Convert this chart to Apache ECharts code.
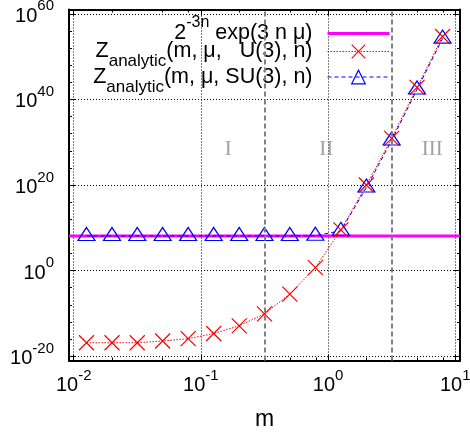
<!DOCTYPE html>
<html><head><meta charset="utf-8">
<script src="https://cdn.jsdelivr.net/npm/echarts@6/dist/echarts.min.js"></script>
<style>html,body{margin:0;padding:0;background:#fff}#c{width:470px;height:434px}</style>
</head><body><div id="c"></div>
<script>
// ---- data ----
const mValues   = [0.0126, 0.02, 0.0316, 0.05, 0.0794, 0.126, 0.2, 0.316, 0.5, 0.794, 1.26, 2.0, 3.16, 5.0, 7.94];
const log10Z_U3  = [-16.85, -16.85, -16.85, -16.45, -15.9, -14.7, -12.9, -10.1, -5.5, 0.7, 9.5, 20.0, 30.9, 42.8, 54.7];
const log10Z_SU3 = [8.1, 8.1, 8.1, 8.1, 8.1, 8.1, 8.1, 8.1, 8.1, 8.15, 9.3, 19.4, 30.4, 42.3, 54.2];
const log10Z_exp = 8.08;                       // 2^{-3n} exp(3 n mu), flat
const regionNames = ['I', 'II', 'III'];
const regionM     = [0.164, 0.965, 6.6];
const regionLog10Z = [28.3, 28.3, 28.3];
const regionBounds = [0.316, 3.16];             // dashed separators
const xMajorExp = [-2, -1, 0, 1];               // tick labels 10^k
const xMinorMult = [2, 5, 8];
const yMajorExp = [-20, 0, 20, 40, 60];
const yMinorStep = 4;
const xLogMin = -2.037, xLogMax = 1.037;
const yLogMin = -21, yLogMax = 61;

const L = Math.log10;
const FONT = 'Liberation Sans';
const xMinor = [];
[-3, -2, -1, 0, 1].forEach(e => xMinorMult.forEach(k => { const v = e + L(k); if (v > xLogMin && v < xLogMax) xMinor.push(+v.toFixed(5)); }));
const yMinor = [];
for (let v = -20; v <= 60; v += yMinorStep) if (yMajorExp.indexOf(v) < 0) yMinor.push(v);

const tickStyle = {color: '#000', width: 1};
const frameLine = {show: true, onZero: false, lineStyle: {color: '#000', width: 2}};
const noLine = {show: false, onZero: false};
function ax(base, opts) { return Object.assign({
  type: 'value', axisLine: noLine, axisLabel: {show: false},
  axisTick: {show: false}, splitLine: {show: false}, silent: true
}, base, opts); }
const xb = {min: xLogMin, max: xLogMax};
const yb = {min: yLogMin, max: yLogMax};
const majT = v => ({show: true, inside: true, length: 6, lineStyle: tickStyle, customValues: v});
const minT = v => ({show: true, inside: true, length: 3, lineStyle: tickStyle, customValues: v});
const gridLine = {show: true, lineStyle: {color: '#000', width: 1, type: [1, 2]}};

const xLabRich = {
  b: {fontSize: 20, fontFamily: FONT, color: '#000', lineHeight: 22},
  s: {fontSize: 15, fontFamily: FONT, color: '#000', lineHeight: 1, height: 2, verticalAlign: 'top'}
};
const yLabRich = {
  b: {fontSize: 20, fontFamily: FONT, color: '#000', lineHeight: 25, height: 20, verticalAlign: 'bottom'},
  s: {fontSize: 15, fontFamily: FONT, color: '#000', lineHeight: 1, height: 10, verticalAlign: 'top'}
};
const legRich = {
  b: {fontSize: 21.5, fontFamily: FONT, color: '#000', lineHeight: 24},
  sup: {fontSize: 16, fontFamily: FONT, color: '#000', lineHeight: 1, height: 2, verticalAlign: 'top'},
  sub: {fontSize: 17, fontFamily: FONT, color: '#000', lineHeight: 1, height: 4, verticalAlign: 'bottom'},
  g: {fontSize: 10, lineHeight: 1, width: 10}
};
const legendText = {
  exp: '{b|2}{sup|-3n}{b| exp(3 n μ)}{g| }',
  U3: '{b|Z}{sub|analytic}{b|(m, μ,   U(3), n)}{g| }',
  SU3: '{b|Z}{sub|analytic}{b|(m, μ, SU(3), n)}{g| }'
};

const option = {
  animation: false,
  backgroundColor: '#fff',
  grid: {left: 69, right: 10, top: 9.5, bottom: 73.5, containLabel: false, outerBoundsMode: 'none'},
  legend: {
    orient: 'vertical', align: 'right', right: 79, top: 14.5, padding: 0,
    itemWidth: 62, itemHeight: 17, itemGap: -4, selectedMode: false,
    formatter: n => legendText[n],
    textStyle: {rich: legRich},
    data: [
      {name: 'exp', itemStyle: {opacity: 0}, lineStyle: {color: '#ff00ff', width: 3, type: 'solid'}},
      {name: 'U3', itemStyle: {color: '#ff0000', borderColor: '#ff0000', borderWidth: 1.2}, lineStyle: {color: '#ff0000', width: 1, type: [1.5, 1.5]}},
      {name: 'SU3', itemStyle: {color: 'rgba(0,0,0,0)', borderColor: '#0000ff', borderWidth: 1.2}, lineStyle: {color: '#0000ff', width: 1, type: [4, 3]}}
    ]
  },
  xAxis: [
    ax(xb, {position: 'bottom', axisLine: frameLine, axisTick: majT(xMajorExp), splitLine: gridLine,
      axisLabel: {show: true, customValues: xMajorExp, margin: 14, formatter: v => '{b|10}{s|' + v + '}', rich: xLabRich},
      name: 'm', nameLocation: 'middle', nameGap: 48,
      nameTextStyle: {fontSize: 23, fontFamily: FONT, color: '#000'}}),
    ax(xb, {position: 'bottom', axisTick: minT(xMinor)}),
    ax(xb, {position: 'top', axisLine: frameLine, axisTick: majT(xMajorExp)}),
    ax(xb, {position: 'top', axisTick: minT(xMinor)})
  ],
  yAxis: [
    ax(yb, {position: 'left', axisLine: frameLine, axisTick: majT(yMajorExp), splitLine: gridLine,
      axisLabel: {show: true, customValues: yMajorExp, margin: 15, formatter: v => '{b|10}{s|' + v + '}', rich: yLabRich}}),
    ax(yb, {position: 'left', axisTick: minT(yMinor)}),
    ax(yb, {position: 'right', axisLine: frameLine, axisTick: majT(yMajorExp)}),
    ax(yb, {position: 'right', axisTick: minT(yMinor)})
  ],
  series: [
    {
      name: 'regions', type: 'scatter', silent: true, symbolSize: 1,
      itemStyle: {color: 'rgba(0,0,0,0)'},
      data: regionNames.map((n, i) => ({name: n, value: [L(regionM[i]), regionLog10Z[i]]})),
      label: {show: true, position: 'inside', formatter: '{b}', fontFamily: 'Liberation Serif', fontSize: 21, color: '#888'},
      markLine: {silent: true, symbol: 'none', label: {show: false},
        lineStyle: {color: '#808080', width: 2, type: [5, 3]},
        data: regionBounds.map(b => ({xAxis: L(b)}))}
    },
    {
      name: 'exp', type: 'line', symbol: 'none',
      lineStyle: {color: '#ff00ff', width: 3}, itemStyle: {color: '#ff00ff'},
      data: [[xLogMin, log10Z_exp], [xLogMax, log10Z_exp]]
    },
    {
      name: 'SU3', type: 'line', symbol: 'triangle', symbolSize: [17, 13], symbolOffset: [0, -2],
      lineStyle: {color: '#0000ff', width: 1, type: [4, 3]},
      itemStyle: {color: 'rgba(0,0,0,0)', borderColor: '#0000ff', borderWidth: 1.2},
      data: mValues.map((m, i) => [L(m), log10Z_SU3[i]])
    },
    {
      name: 'U3', type: 'line', symbol: 'path://M0,0L10,10M10,0L0,10', symbolSize: 15,
      lineStyle: {color: '#ff0000', width: 1, type: [1.5, 1.5]},
      itemStyle: {color: '#ff0000', borderColor: '#ff0000', borderWidth: 1.2},
      data: mValues.map((m, i) => [L(m), log10Z_U3[i]])
    }
  ]
};
const chart = echarts.init(document.getElementById('c'), null, {renderer: 'canvas', width: 470, height: 434});
chart.setOption(option);
</script>
</body></html>
